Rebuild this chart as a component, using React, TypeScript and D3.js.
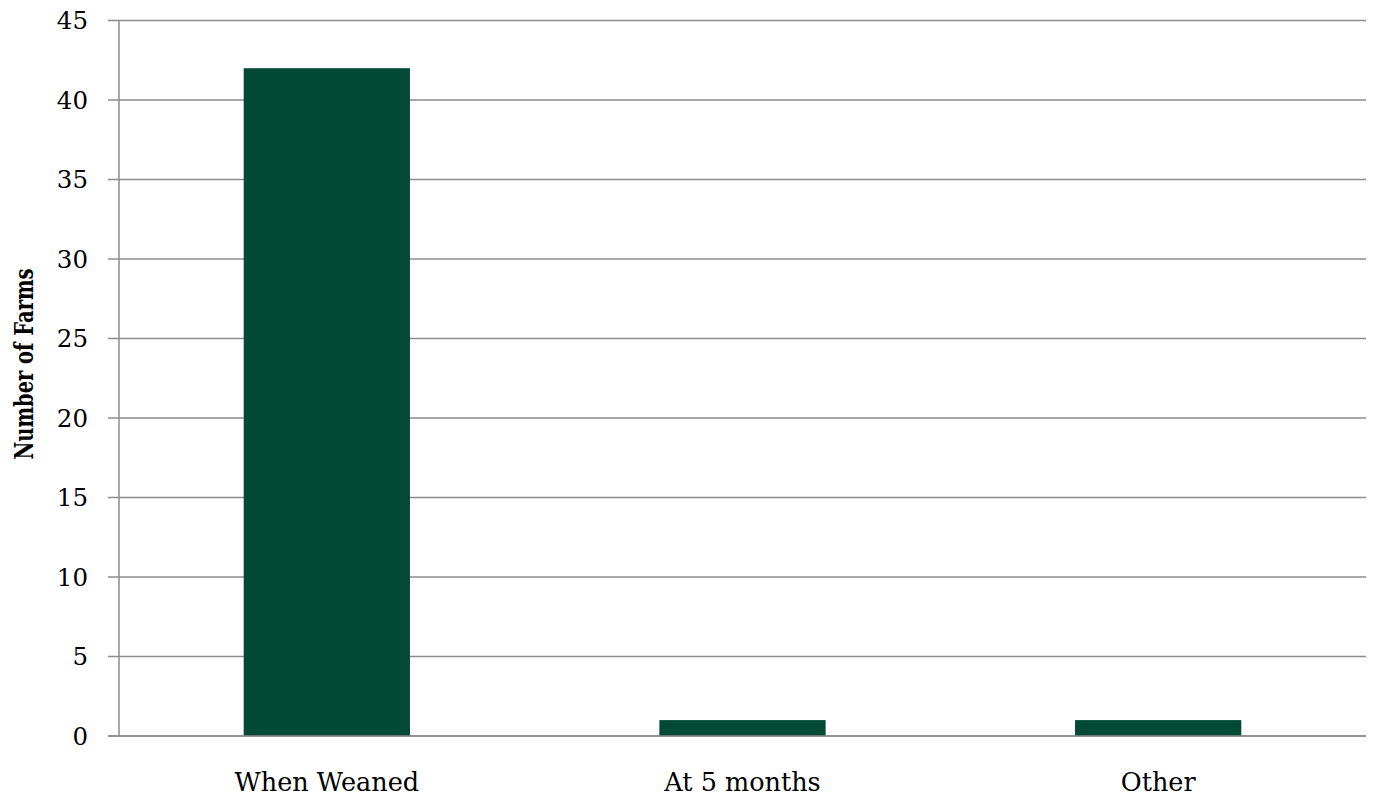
import React from "react";
import * as d3 from "d3";

const categories = ["When Weaned", "At 5 months", "Other"];
const values = [42, 1, 1];
const yTicks = [0, 5, 10, 15, 20, 25, 30, 35, 40, 45];
const yTitle = "Number of Farms";

const W = 1374;
const H = 797;
const left = 119;
const right = 1366;
const top = 20.5;
const bottom = 736;
const font = "'DejaVu Serif', 'Liberation Serif', serif";

export default function App() {
  const x = d3.scaleBand<string>().domain(categories).range([left, right]).paddingInner(0.6).paddingOuter(0.3);
  const y = d3.scaleLinear().domain([0, 45]).range([bottom, top]);
  return (
    <svg width={W} height={H} style={{ position: "absolute", left: 0, top: 0 }}>
      <rect x={0} y={0} width={W} height={H} fill="#fff" />
      {yTicks.map((t) => (
        <g key={t}>
          <line x1={108} x2={right} y1={y(t)} y2={y(t)} stroke="#8c8c8c" strokeWidth={1.5} />
          <text x={88} y={y(t)} dy="0.36em" textAnchor="end" fontFamily={font} fontSize={24.5} fill="#000">
            {t}
          </text>
        </g>
      ))}
      {categories.map((c, i) => (
        <rect key={c} x={x(c)} y={y(values[i])} width={x.bandwidth()} height={y(0) - y(values[i])} fill="#024a35" />
      ))}
      <line x1={left} x2={left} y1={top} y2={bottom} stroke="#8c8c8c" strokeWidth={1.5} />
      <line x1={108} x2={right} y1={y(0)} y2={y(0)} stroke="#8c8c8c" strokeWidth={1.5} />
      {categories.map((c) => (
        <text key={c} x={(x(c) as number) + x.bandwidth() / 2} y={791} textAnchor="middle" fontFamily={font} fontSize={25.5} fill="#000">
          {c}
        </text>
      ))}
      <text
        transform={`translate(33, 364) rotate(-90) scale(0.75, 1)`}
        textAnchor="middle"
        fontFamily={font}
        fontSize={26}
        fontWeight="bold"
        fill="#000"
      >
        {yTitle}
      </text>
    </svg>
  );
}
